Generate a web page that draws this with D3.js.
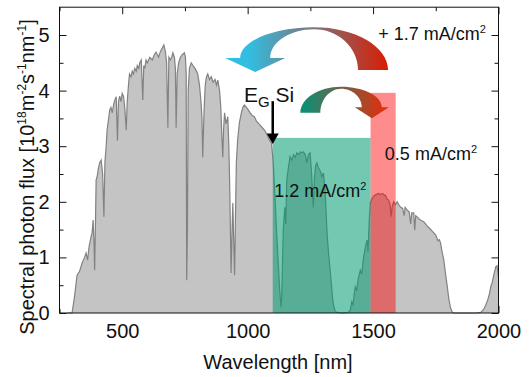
<!DOCTYPE html>
<html>
<head>
<meta charset="utf-8">
<script src="https://cdn.jsdelivr.net/npm/d3@7"></script>
<style>
  body { margin: 0; background: #fff; }
  svg text { font-family: "Liberation Sans", Arial, sans-serif; fill: #111; }
</style>
</head>
<body>
<svg id="chart" width="529" height="377"></svg>
<script>
// AM1.5G spectral photon flux [nm] / [1e18 m^-2 s^-1 nm^-1]
const wavelength = [
  280, 300, 310, 320, 330, 340, 350, 356, 362, 368, 375, 380, 384, 388, 390, 393, 396, 400, 405, 410,
  416, 422, 427, 431, 436, 440, 446, 450, 455, 460, 466, 470, 476, 481, 485, 490, 495, 500, 505, 510,
  516, 520, 525, 529, 535, 540, 545, 550, 556, 560, 566, 570, 576, 582, 586, 590, 595, 600, 610, 620,
  628, 635, 645, 652, 658, 666, 672, 677, 682, 686, 692, 697, 702, 708, 712, 715, 719, 725, 732, 740,
  748, 752, 755, 757, 760, 763, 768, 775, 782, 790, 796, 801, 808, 814, 818, 821, 826, 831, 836, 841,
  848, 855, 862, 870, 876, 881, 888, 893, 897, 901, 904, 908, 914, 921, 925, 928, 931, 934, 938, 941,
  945, 948, 951, 955, 960, 967, 975, 981, 987, 995, 1003, 1010, 1018, 1027, 1035, 1045, 1055, 1067, 1078, 1088,
  1095, 1102, 1109, 1115, 1122, 1128, 1133, 1136, 1139, 1142, 1148, 1152, 1156, 1162, 1169, 1176, 1183, 1190, 1196, 1203,
  1210, 1216, 1222, 1230, 1236, 1242, 1249, 1255, 1259, 1262, 1266, 1271, 1276, 1283, 1290, 1296, 1302, 1309, 1316, 1322,
  1329, 1335, 1340, 1349, 1360, 1380, 1400, 1409, 1415, 1420, 1425, 1429, 1435, 1440, 1449, 1455, 1462, 1470, 1476, 1480,
  1484, 1489, 1495, 1502, 1509, 1516, 1522, 1530, 1538, 1545, 1549, 1556, 1562, 1568, 1572, 1576, 1582, 1589, 1596, 1602,
  1610, 1618, 1624, 1628, 1636, 1644, 1650, 1654, 1662, 1666, 1670, 1678, 1686, 1694, 1702, 1710, 1718, 1726, 1734, 1742,
  1750, 1758, 1764, 1769, 1775, 1782, 1789, 1796, 1802, 1809, 1815, 1822, 1850, 1880, 1910, 1929, 1940, 1949, 1958, 1964,
  1969, 1975, 1982, 1989, 1994, 2000
];
const flux = [
  0, 0, 0.3, 0.68, 0.75, 0.9, 1.0, 1.08, 0.95, 1.2, 1.35, 1.45, 1.67, 1.2, 0.77, 1.5, 2.39, 2.45, 2.6, 2.7,
  2.75, 2.5, 1.73, 2.7, 3.0, 3.3, 3.5, 3.65, 3.7, 3.6, 3.75, 3.82, 3.89, 3.1, 3.8, 3.9, 3.8, 3.95, 3.9, 3.7,
  3.29, 3.8, 4.1, 4.3, 4.25, 4.35, 4.3, 4.4, 4.35, 4.45, 4.4, 4.5, 4.55, 3.83, 4.45, 4.4, 4.55, 4.5, 4.6, 4.55,
  4.65, 4.69, 4.6, 4.7, 4.75, 4.82, 4.7, 4.5, 3.33, 4.6, 4.55, 4.6, 4.68, 4.6, 4.4, 3.33, 4.3, 4.5, 4.6, 4.65,
  4.68, 4.6, 4.3, 0.59, 1.5, 4.0, 4.4, 4.5, 4.45, 4.4, 4.35, 4.3, 4.1, 3.8, 3.5, 2.8, 3.6, 4.1, 4.25, 4.3,
  4.2, 4.25, 4.15, 4.2, 4.1, 4.19, 4.0, 3.7, 3.2, 2.8, 3.3, 3.6, 3.4, 3.53, 3.0, 2.39, 1.6, 0.72, 1.5, 1.98,
  1.2, 0.68, 1.6, 2.7, 3.1, 3.42, 3.6, 3.7, 3.74, 3.7, 3.65, 3.6, 3.55, 3.53, 3.45, 3.4, 3.35, 3.29, 3.2, 3.1,
  3.06, 2.7, 2.09, 1.5, 0.9, 0.4, 0.1, 0.3, 0.9, 1.49, 1.9, 1.6, 2.39, 2.6, 2.81, 2.75, 2.85, 2.8, 2.88, 2.85,
  2.9, 2.88, 2.9, 2.85, 2.7, 2.85, 2.88, 2.5, 2.1, 1.9, 2.4, 2.65, 2.7, 2.6, 2.55, 2.45, 2.52, 2.2, 1.49, 1.1,
  0.77, 0.45, 0.2, 0.02, 0.01, 0, 0.01, 0.05, 0.2, 0.15, 0.35, 0.47, 0.4, 0.6, 0.77, 0.7, 1.0, 1.2, 1.31, 1.1,
  1.6, 1.98, 2.05, 2.1, 2.12, 2.14, 2.15, 2.13, 2.15, 2.12, 2.12, 2.05, 2.03, 1.95, 1.73, 1.91, 2.0, 1.95, 2.0, 1.95,
  1.9, 1.88, 1.75, 1.9, 1.85, 1.82, 1.6, 1.8, 1.8, 1.49, 1.75, 1.72, 1.68, 1.66, 1.64, 1.6, 1.55, 1.52, 1.48, 1.44,
  1.4, 1.3, 1.32, 1.26, 1.1, 0.95, 0.7, 0.47, 0.25, 0.09, 0.02, 0, 0, 0, 0, 0.01, 0.06, 0.14, 0.25, 0.35,
  0.47, 0.55, 0.7, 0.83, 0.85, 0.65
];

const xTicks = [500, 1000, 1500, 2000];
const xMinor = [250, 750, 1250, 1750];
const yTicks = [0, 1, 2, 3, 4, 5];
const yMinor = [0.5, 1.5, 2.5, 3.5, 4.5];

// highlighted bands: Si absorption above the gap, and the up-converted window
const bandStart = [1100, 1490];
const bandEnd = [1490, 1590];
const bandTop = [3.15, 3.96];
const bandColor = ["rgb(0,155,115)", "rgb(255,0,0)"];
const bandOpacity = [0.55, 0.45];
const bandCurrent = ["1.2", "0.5"];

const width = 529, height = 377;
const svg = d3.select("#chart");

let x = d3.scaleLinear().domain([250, 2000]).range([59.5, 498.5]);
let y = d3.scaleLinear().domain([0, 5.5]).range([313, 7.2]);

const spectrum = wavelength.map((w, i) => ({w: w, f: flux[i]}));

// axes first so the fill covers the ticks at the bottom
function styleAxis(g) {
  g.selectAll("path.domain").remove();
  g.selectAll("line").attr("stroke", "#111").attr("stroke-width", 1);
  g.selectAll("text").style("font-size", "20px").attr("fill", "#111");
}

svg.append("g")
  .attr("transform", "translate(0," + y(0) + ")")
  .call(d3.axisBottom(x).tickValues(xTicks).tickSize(-7).tickPadding(11).tickFormat(d3.format("d")))
  .call(styleAxis);
svg.append("g")
  .attr("transform", "translate(0," + y(0) + ")")
  .call(d3.axisBottom(x).tickValues(xMinor).tickSize(-4).tickFormat(""))
  .call(styleAxis);
svg.append("g")
  .attr("transform", "translate(0," + y(5.5) + ")")
  .call(d3.axisTop(x).tickValues(xTicks).tickSize(-7).tickFormat(""))
  .call(styleAxis);
svg.append("g")
  .attr("transform", "translate(0," + y(5.5) + ")")
  .call(d3.axisTop(x).tickValues(xMinor).tickSize(-4).tickFormat(""))
  .call(styleAxis);
svg.append("g")
  .attr("transform", "translate(" + x(250) + ",0)")
  .call(d3.axisLeft(y).tickValues(yTicks).tickSize(-7).tickPadding(10).tickFormat(d3.format("d")))
  .call(styleAxis);
svg.append("g")
  .attr("transform", "translate(" + x(250) + ",0)")
  .call(d3.axisLeft(y).tickValues(yMinor).tickSize(-4).tickFormat(""))
  .call(styleAxis);
svg.append("g")
  .attr("transform", "translate(" + x(2000) + ",0)")
  .call(d3.axisRight(y).tickValues(yTicks).tickSize(-7).tickFormat(""))
  .call(styleAxis);
svg.append("g")
  .attr("transform", "translate(" + x(2000) + ",0)")
  .call(d3.axisRight(y).tickValues(yMinor).tickSize(-4).tickFormat(""))
  .call(styleAxis);

// spectrum
let area = d3.area()
  .x(d => x(d.w))
  .y0(y(0))
  .y1(d => y(d.f));
let line = d3.line()
  .x(d => x(d.w))
  .y(d => y(d.f));

svg.append("path")
  .datum(spectrum)
  .attr("d", area)
  .attr("fill", "#c4c4c4");
svg.append("path")
  .datum(spectrum)
  .attr("d", line)
  .attr("fill", "none")
  .attr("stroke", "#828282")
  .attr("stroke-width", 1.2);

// bands
svg.selectAll(".band")
  .data(bandStart)
  .enter().append("rect")
  .attr("class", "band")
  .attr("x", (d, i) => x(d))
  .attr("width", (d, i) => x(bandEnd[i]) - x(d))
  .attr("y", (d, i) => y(bandTop[i]))
  .attr("height", (d, i) => y(0) - y(bandTop[i]))
  .attr("fill", (d, i) => bandColor[i])
  .attr("fill-opacity", (d, i) => bandOpacity[i]);

// frame
svg.append("rect")
  .attr("x", x(250))
  .attr("y", y(5.5))
  .attr("width", x(2000) - x(250))
  .attr("height", y(0) - y(5.5))
  .attr("fill", "none")
  .attr("stroke", "#111")
  .attr("stroke-width", 1);

// curved block arrows (tail at tx, head at hx)
function curvedArrow(tx, hx, yb, yt, w, hw, hl, tipDy) {
  let d = Math.sign(hx - tx);
  let oT = tx - d * w / 2, iT = tx + d * w / 2;
  let oH = hx + d * w / 2, iH = hx - d * w / 2;
  let yh = yb - hl;
  let mx = (tx + hx) / 2;
  let k = 0.55;
  let yi = yt + 2;
  let p = d3.path();
  p.moveTo(oT, yb);
  p.bezierCurveTo(oT, yb - k * (yb - yt), mx + (oT - mx) * k, yt, mx, yt);
  p.bezierCurveTo(mx + (oH - mx) * k, yt, oH, yh - k * (yh - yt), oH, yh);
  p.lineTo(hx + d * hw, yh);
  p.lineTo(hx, yb + tipDy);
  p.lineTo(hx - d * hw, yh);
  p.lineTo(iH, yh);
  p.bezierCurveTo(iH, yh - k * (yh - yi), mx + (iH - mx) * k, yi, mx, yi);
  p.bezierCurveTo(mx + (iT - mx) * k, yi, iT, yb - k * (yb - yi), iT, yb);
  p.closePath();
  return p.toString();
}

let defs = svg.append("defs");
function gradient(id, x1, x2, c1, c2) {
  let g = defs.append("linearGradient")
    .attr("id", id)
    .attr("gradientUnits", "userSpaceOnUse")
    .attr("x1", x1).attr("x2", x2).attr("y1", 0).attr("y2", 0);
  g.append("stop").attr("offset", 0).attr("stop-color", c1);
  g.append("stop").attr("offset", 1).attr("stop-color", c2);
}

// big arrow: up-conversion gain, from 1500 nm back to ~1030 nm
gradient("gBig", x(1000), x(1560), "#30bfe2", "#d81d04");
svg.append("path")
  .attr("d", curvedArrow(x(1500), x(1030), y(4.37), y(5.14), 30, 30, 12, 2))
  .attr("fill", "url(#gBig)");

// small arrow: from Si band into the red window
gradient("gSmall", x(1230), x(1560), "#108e74", "#ec2a08");
svg.append("path")
  .attr("d", curvedArrow(x(1250), x(1495), y(3.6), y(4.07), 20, 17, 5.5, 5.5))
  .attr("fill", "url(#gSmall)");

// band gap marker
let gx = x(1100);
svg.append("line")
  .attr("x1", gx).attr("x2", gx)
  .attr("y1", y(3.81)).attr("y2", y(3.2))
  .attr("stroke", "#000")
  .attr("stroke-width", 2.5);
svg.append("path")
  .attr("d", "M" + (gx - 6) + "," + y(3.23) + "L" + (gx + 6) + "," + y(3.23) + "L" + gx + "," + y(3.04) + "Z")
  .attr("fill", "#000");

let eg = svg.append("text")
  .attr("x", x(985))
  .attr("y", y(3.8))
  .style("font-size", "21px");
eg.append("tspan").text("E");
eg.append("tspan").attr("dy", 5).style("font-size", "15px").text("G");
eg.append("tspan").attr("dy", -5).text(" Si");

// current labels
function currentLabel(tx, ty, txt) {
  let t = svg.append("text")
    .attr("x", tx)
    .attr("y", ty)
    .style("font-size", "18px");
  t.append("tspan").text(txt + " mA/cm");
  t.append("tspan").attr("dy", -7).style("font-size", "11px").text("2");
}
currentLabel(x(1106), y(2.09), bandCurrent[0]);
currentLabel(x(1547), y(2.75), bandCurrent[1]);
currentLabel(x(1521), y(4.91), "+ 1.7");

// axis titles
svg.append("text")
  .attr("x", 278)
  .attr("y", 368.5)
  .attr("text-anchor", "middle")
  .style("font-size", "20px")
  .text("Wavelength [nm]");

let yl = svg.append("text")
  .attr("transform", "translate(34,177) rotate(-90)")
  .attr("text-anchor", "middle")
  .style("font-size", "20px");
yl.append("tspan").text("Spectral photon flux [10");
yl.append("tspan").attr("dy", -8).style("font-size", "12px").text("18");
yl.append("tspan").attr("dy", 8).text("m");
yl.append("tspan").attr("dy", -8).style("font-size", "12px").text("-2");
yl.append("tspan").attr("dy", 8).text("s");
yl.append("tspan").attr("dy", -8).style("font-size", "12px").text("-1");
yl.append("tspan").attr("dy", 8).text("nm");
yl.append("tspan").attr("dy", -8).style("font-size", "12px").text("-1");
yl.append("tspan").attr("dy", 8).text("]");
</script>
</body>
</html>
